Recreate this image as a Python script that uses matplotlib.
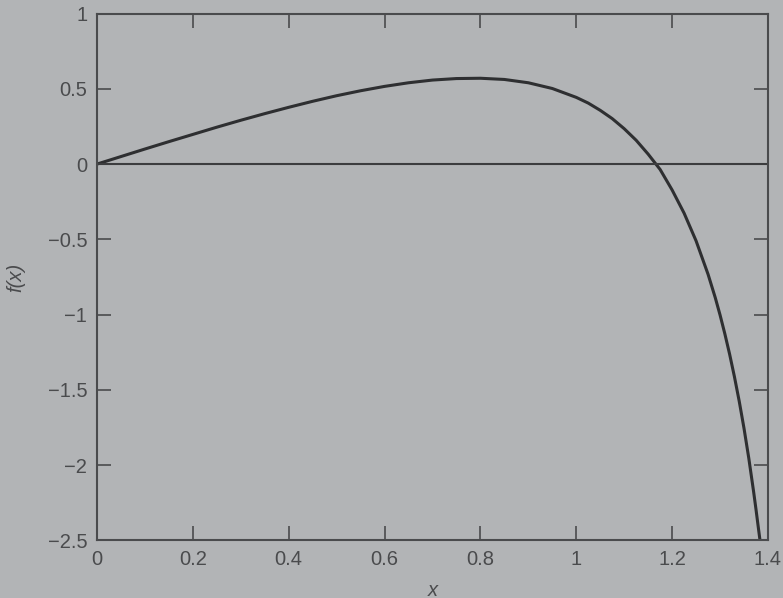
import matplotlib
matplotlib.use("Agg")
import matplotlib.pyplot as plt

# values
x_vals = [0.0, 0.05, 0.1, 0.15, 0.2, 0.25, 0.3, 0.35, 0.4, 0.45, 0.5, 0.55,
          0.6, 0.65, 0.7, 0.75, 0.8, 0.85, 0.9, 0.95, 1.0, 1.025, 1.05, 1.075,
          1.1, 1.125, 1.15, 1.175, 1.2, 1.225, 1.25, 1.275, 1.29, 1.3, 1.31,
          1.32, 1.33, 1.34, 1.35, 1.36, 1.37, 1.375, 1.38, 1.383]
f_vals = [0.0, 0.050, 0.100, 0.149, 0.197, 0.245, 0.291, 0.335, 0.377,
          0.417, 0.454, 0.487, 0.516, 0.540, 0.558, 0.568, 0.570, 0.562,
          0.540, 0.502, 0.443, 0.405, 0.357, 0.302, 0.235, 0.158, 0.066,
          -0.036, -0.172, -0.326, -0.510, -0.732, -0.887, -1.002, -1.127,
          -1.263, -1.412, -1.575, -1.755, -1.954, -2.175, -2.293, -2.417, -2.49]

x_ticks = [0, 0.2, 0.4, 0.6, 0.8, 1, 1.2, 1.4]
x_ticklabels = ["0", "0.2", "0.4", "0.6", "0.8", "1", "1.2", "1.4"]
y_ticks = [-2.5, -2, -1.5, -1, -0.5, 0, 0.5, 1]
y_ticklabels = ["\u22122.5", "\u22122", "\u22121.5", "\u22121", "\u22120.5", "0", "0.5", "1"]

bg = "#b2b4b6"
ink = "#4a4b4d"

plt.rcParams["font.family"] = ["Liberation Sans", "DejaVu Sans"]

fig = plt.figure(figsize=(7.83, 5.98), dpi=100, facecolor=bg)
ax = fig.add_axes([0.1239, 0.0962, 0.8569, 0.8812], facecolor=bg)

ax.plot(x_vals, f_vals, color="#2e2f31", lw=2.2, solid_joinstyle="round")
ax.axhline(0, color="#3c3d3f", lw=1.5)

ax.set_xlim(0, 1.4)
ax.set_ylim(-2.5, 1)
ax.set_xticks(x_ticks)
ax.set_xticklabels(x_ticklabels)
ax.set_yticks(y_ticks)
ax.set_yticklabels(y_ticklabels)
ax.tick_params(direction="in", length=10, width=1.2, color=ink, labelcolor=ink,
               labelsize=14.5, top=True, right=True)
ax.tick_params(axis="x", pad=7)
ax.tick_params(axis="y", pad=7)
for s in ax.spines.values():
    s.set_color(ink)
    s.set_linewidth(1.5)

fig.text(433 / 783, 1 - 590 / 598, "x", fontsize=14.5, color=ink, style="italic",
         ha="center", va="center")
fig.text(16 / 783, 1 - 277 / 598, "f(x)", fontsize=14.5, color=ink, style="italic",
         rotation=90, ha="center", va="center")

fig.savefig("out.png", dpi=100, facecolor=bg)
